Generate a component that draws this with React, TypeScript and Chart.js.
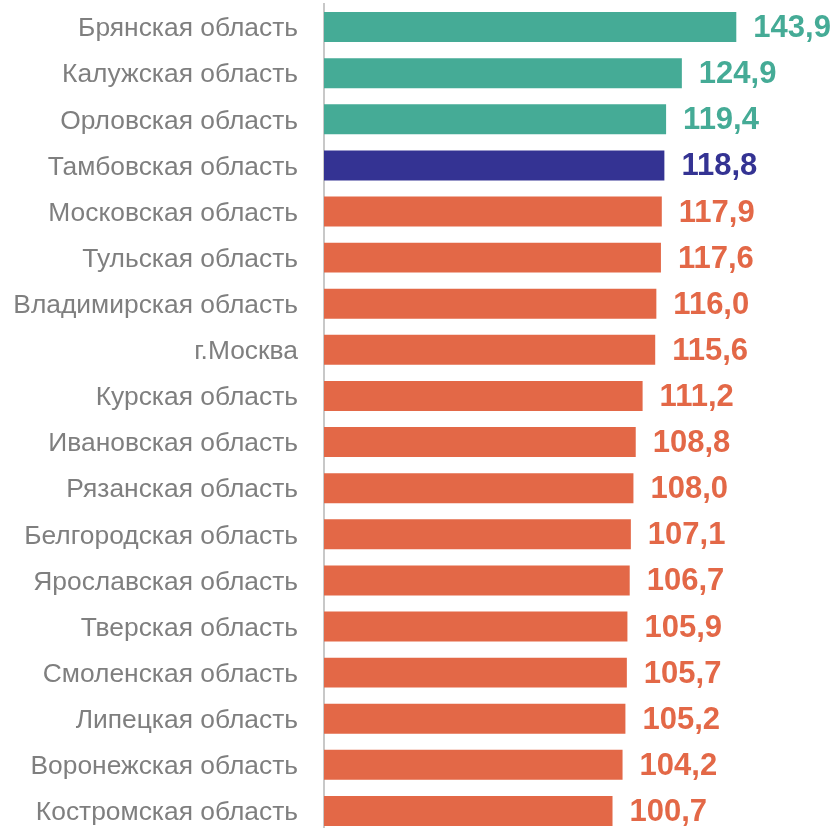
import React, { useEffect, useRef } from "react";
import { Chart, registerables } from "chart.js";

Chart.register(...registerables);

const categories = [
  "Брянская область",
  "Калужская область",
  "Орловская область",
  "Тамбовская область",
  "Московская область",
  "Тульская область",
  "Владимирская область",
  "г.Москва",
  "Курская область",
  "Ивановская область",
  "Рязанская область",
  "Белгородская область",
  "Ярославская область",
  "Тверская область",
  "Смоленская область",
  "Липецкая область",
  "Воронежская область",
  "Костромская область",
];

const values = [
  143.9, 124.9, 119.4, 118.8, 117.9, 117.6, 116.0, 115.6, 111.2, 108.8, 108.0,
  107.1, 106.7, 105.9, 105.7, 105.2, 104.2, 100.7,
];

const TEAL = "#45AB96";
const NAVY = "#343393";
const ORANGE = "#E36847";

const barColors = values.map((_, i) => (i < 3 ? TEAL : i === 3 ? NAVY : ORANGE));

const valueLabels = {
  id: "valueLabels",
  afterDatasetsDraw(chart: any) {
    const ctx = chart.ctx;
    const meta = chart.getDatasetMeta(0);
    ctx.save();
    ctx.font = "bold 31px 'Liberation Sans', Arial, sans-serif";
    ctx.textAlign = "left";
    ctx.textBaseline = "middle";
    meta.data.forEach((el: any, i: number) => {
      ctx.fillStyle = barColors[i];
      const txt = values[i].toFixed(1).replace(".", ",");
      ctx.fillText(txt, el.x + 17, el.y + 1.5);
    });
    ctx.restore();
  },
};

export default function App() {
  const ref = useRef<HTMLCanvasElement>(null);
  useEffect(() => {
    if (!ref.current) return;
    const chart = new Chart(ref.current, {
      type: "bar",
      data: {
        labels: categories,
        datasets: [
          {
            data: values,
            backgroundColor: barColors,
            barPercentage: 0.65,
            categoryPercentage: 1,
          },
        ],
      },
      options: {
        indexAxis: "y",
        responsive: false,
        animation: false,
        devicePixelRatio: 1,
        layout: { padding: { top: 4, right: 0, bottom: 0, left: 0 } },
        plugins: {
          legend: { display: false },
          tooltip: { enabled: false },
        },
        scales: {
          x: {
            display: false,
            min: 0,
            max: 178.7,
          },
          y: {
            grid: { display: false, drawTicks: false },
            border: { display: true, color: "#c8c8c8", width: 2 },
            ticks: {
              color: "#7f7f7f",
              padding: 26,
              labelOffset: 2,
              font: { family: "'Liberation Sans', Arial, sans-serif", size: 26.4 },
            },
            afterFit: (scale: any) => {
              scale.width = 324;
              scale.paddingTop = 0;
              scale.paddingBottom = 0;
            },
          },
        },
      },
      plugins: [valueLabels],
    });
    return () => chart.destroy();
  }, []);
  return (
    <div
      style={{
        position: "fixed",
        left: 0,
        top: 0,
        width: 836,
        height: 828,
        overflow: "hidden",
        background: "#fff",
      }}
    >
      <canvas ref={ref} width={836} height={834} style={{ display: "block" }} />
    </div>
  );
}
